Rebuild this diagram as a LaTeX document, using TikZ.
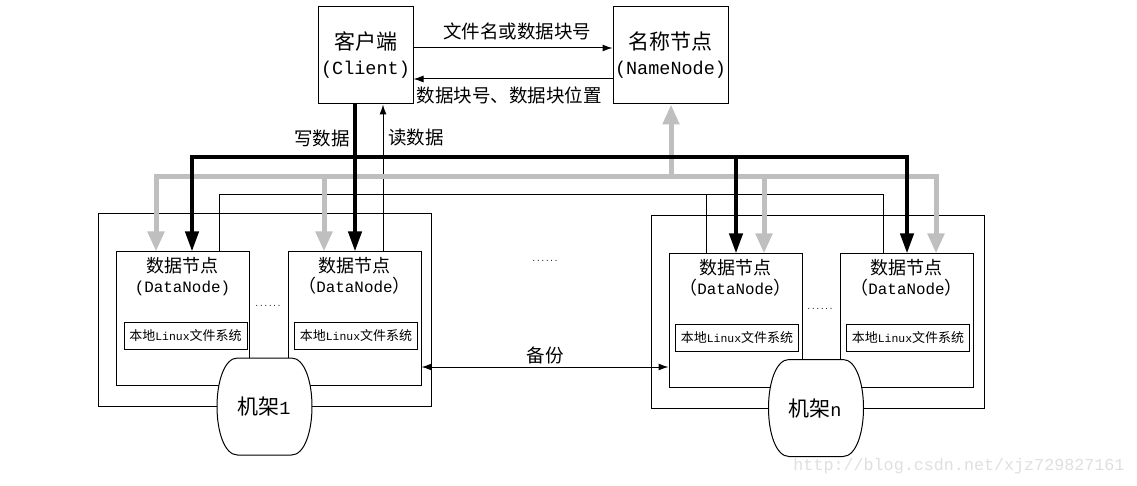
\documentclass[tikz,border=0pt]{standalone}
\usepackage{fontspec}
\usepackage{tikz}
\usetikzlibrary{arrows.meta}
\setmainfont{Noto Sans CJK SC}
\newfontfamily\lat{Liberation Mono}[Scale=0.88]

\begin{document}
\begin{tikzpicture}[x=1pt,y=-1pt,
		topbox/.style={draw, line width=1pt, inner sep=0pt, align=center, minimum height=97pt, font=\fontsize{21}{25}\selectfont},
		rackbox/.style={draw, line width=1pt, minimum width=333pt, minimum height=192pt},
		dnbox/.style={draw, line width=1pt, minimum width=133pt, minimum height=133pt},
		dntext/.style={align=center, inner sep=0pt, anchor=north, font=\fontsize{18}{20}\selectfont},
		fsbox/.style={draw, line width=1pt, inner sep=0pt, minimum width=123pt, minimum height=27pt, font=\fontsize{13}{15}\selectfont},
		racktext/.style={inner sep=0pt, font=\fontsize{21}{25}\selectfont},
		lbl/.style={inner sep=0pt, font=\fontsize{18.5}{22}\selectfont},
		dots/.style={inner sep=0pt, font=\lat\fontsize{8.5}{9}\selectfont},
		thinarrow/.style={line width=1pt, -{Latex[length=10pt,width=7pt]}},
		rline/.style={line width=1pt},
		wline/.style={line width=4pt, -{Triangle[length=20pt,width=13pt]}},
		gline/.style={line width=5pt, gray!50, -{Triangle[length=20pt,width=16pt]}}]
		\useasboundingbox (0,0) rectangle (1137,486);
		% client and name node
		\node[topbox, minimum width=95pt] (client) at (365.5,55.5) {客户端\\{\lat(Client)}};
		\node[topbox, minimum width=115pt] (name) at (670.5,55.5) {名称节点\\{\lat(NameNode)}};
		\draw[thinarrow] ([yshift=7.5pt]client.east) -- ([yshift=7.5pt]name.west) node[lbl, midway, above=7pt, xshift=4pt] (ask) {文件名或数据块号};
		\draw[thinarrow] ([yshift=-23.5pt]name.west) -- ([yshift=-23.5pt]client.east) node[lbl, midway, below=7pt, xshift=-4pt] (ans) {数据块号、数据块位置};
		% rack 1
		\node[rackbox] (rack1) at (264.5,310) {};
		\node[dnbox] (dn1) at (182.5,318.5) {};
		\node[dnbox] (dn2) at (354.5,318.5) {};
		\node[dntext] (dn1t) at ([yshift=-6pt]dn1.north) {数据节点\\{\lat(DataNode)}};
		\node[dntext] (dn2t) at ([yshift=-6pt]dn2.north) {数据节点\\（{\lat DataNode}）};
		\node[fsbox] (fs1) at (185.5,336) {本地{\lat Linux}文件系统};
		\node[fsbox] (fs2) at (356,336) {本地{\lat Linux}文件系统};
		\node[dots] (d1) at (268,306) {......};
		% rack n
		\node[rackbox] (rackn) at (817.5,312) {};
		\node[dnbox] (dn3) at (735.5,320.5) {};
		\node[dnbox] (dn4) at (906.5,320.5) {};
		\node[dntext] (dn3t) at ([yshift=-6pt]dn3.north) {数据节点\\（{\lat DataNode}）};
		\node[dntext] (dn4t) at ([yshift=-6pt]dn4.north) {数据节点\\（{\lat DataNode}）};
		\node[fsbox] (fs3) at (737,338) {本地{\lat Linux}文件系统};
		\node[fsbox] (fs4) at (908,338) {本地{\lat Linux}文件系统};
		\node[dots] (d2) at (820,309) {......};
		% rack shapes
		\draw[line width=1pt, fill=white, shift={(264.5,406.5)}] (-27,-48.5) -- (27,-48.5) .. controls (40,-48.5) and (47.5,-25) .. (47.5,0) .. controls (47.5,25) and (40,48.5) .. (27,48.5) -- (-27,48.5) .. controls (-40,48.5) and (-47.5,25) .. (-47.5,0) .. controls (-47.5,-25) and (-40,-48.5) .. (-27,-48.5) -- cycle;
		\node[racktext] (rk1) at (264,407) {机架{\lat 1}};
		\draw[line width=1pt, fill=white, shift={(816,408)}] (-27,-48.5) -- (27,-48.5) .. controls (40,-48.5) and (47.5,-25) .. (47.5,0) .. controls (47.5,25) and (40,48.5) .. (27,48.5) -- (-27,48.5) .. controls (-40,48.5) and (-47.5,25) .. (-47.5,0) .. controls (-47.5,-25) and (-40,-48.5) .. (-27,-48.5) -- cycle;
		\node[racktext] (rkn) at (815,409) {机架{\lat n}};
		\node[dots] (d3) at (545,261) {......};
		% backup
		\draw[line width=1pt, {Latex[length=10pt,width=7pt]}-{Latex[length=10pt,width=7pt]}] ([yshift=-48.5pt]dn2.east) coordinate (bk) -- (bk -| dn3.west) node[lbl, midway, above=3pt] (bkt) {备份};
		% read lines
		\coordinate (r1) at (219,195);
		\coordinate (r2) at (383,195);
		\coordinate (r3) at (706,195);
		\coordinate (r4) at (883,195);
		\draw[rline] (dn1.north -| r1) |- (r4) -- (dn4.north -| r4);
		\draw[rline] (r3) -- (dn3.north -| r3);
		\draw[thinarrow] (dn2.north -| r2) -- (client.south -| r2);
		% name node lines
		\coordinate (g0) at (671,177);
		\coordinate (g1) at (156,177);
		\coordinate (g2) at (324,177);
		\coordinate (g3) at (764,177);
		\coordinate (g4) at (936,177);
		\draw[gline] (g0) -| (dn1.north -| g1);
		\draw[gline] (g0) -| (dn4.north -| g4);
		\draw[gline] (g2) -- (dn2.north -| g2);
		\draw[gline] (g3) -- (dn3.north -| g3);
		\draw[gline] (g0) -- (name.south -| g0);
		% write lines
		\coordinate (w0) at (355,157);
		\coordinate (w1) at (192,157);
		\coordinate (w3) at (736,157);
		\coordinate (w4) at (907,157);
		\draw[wline] (client.south -| w0) -- (dn2.north -| w0);
		\draw[wline] (w0) -| (dn1.north -| w1);
		\draw[wline] (w0) -| (dn4.north -| w4);
		\draw[wline] (w3) -- (dn3.north -| w3);
		\node[lbl, anchor=east] (wlab) at (350,138) {写数据};
		\node[lbl, anchor=west] (rlab) at (388,138) {读数据};
		\node[inner sep=0pt, text=gray!25, font=\lat\fontsize{19}{22}\selectfont] (wm) at (959,466) {http://blog.csdn.net/xjz729827161};
	\end{tikzpicture}
\end{document}
